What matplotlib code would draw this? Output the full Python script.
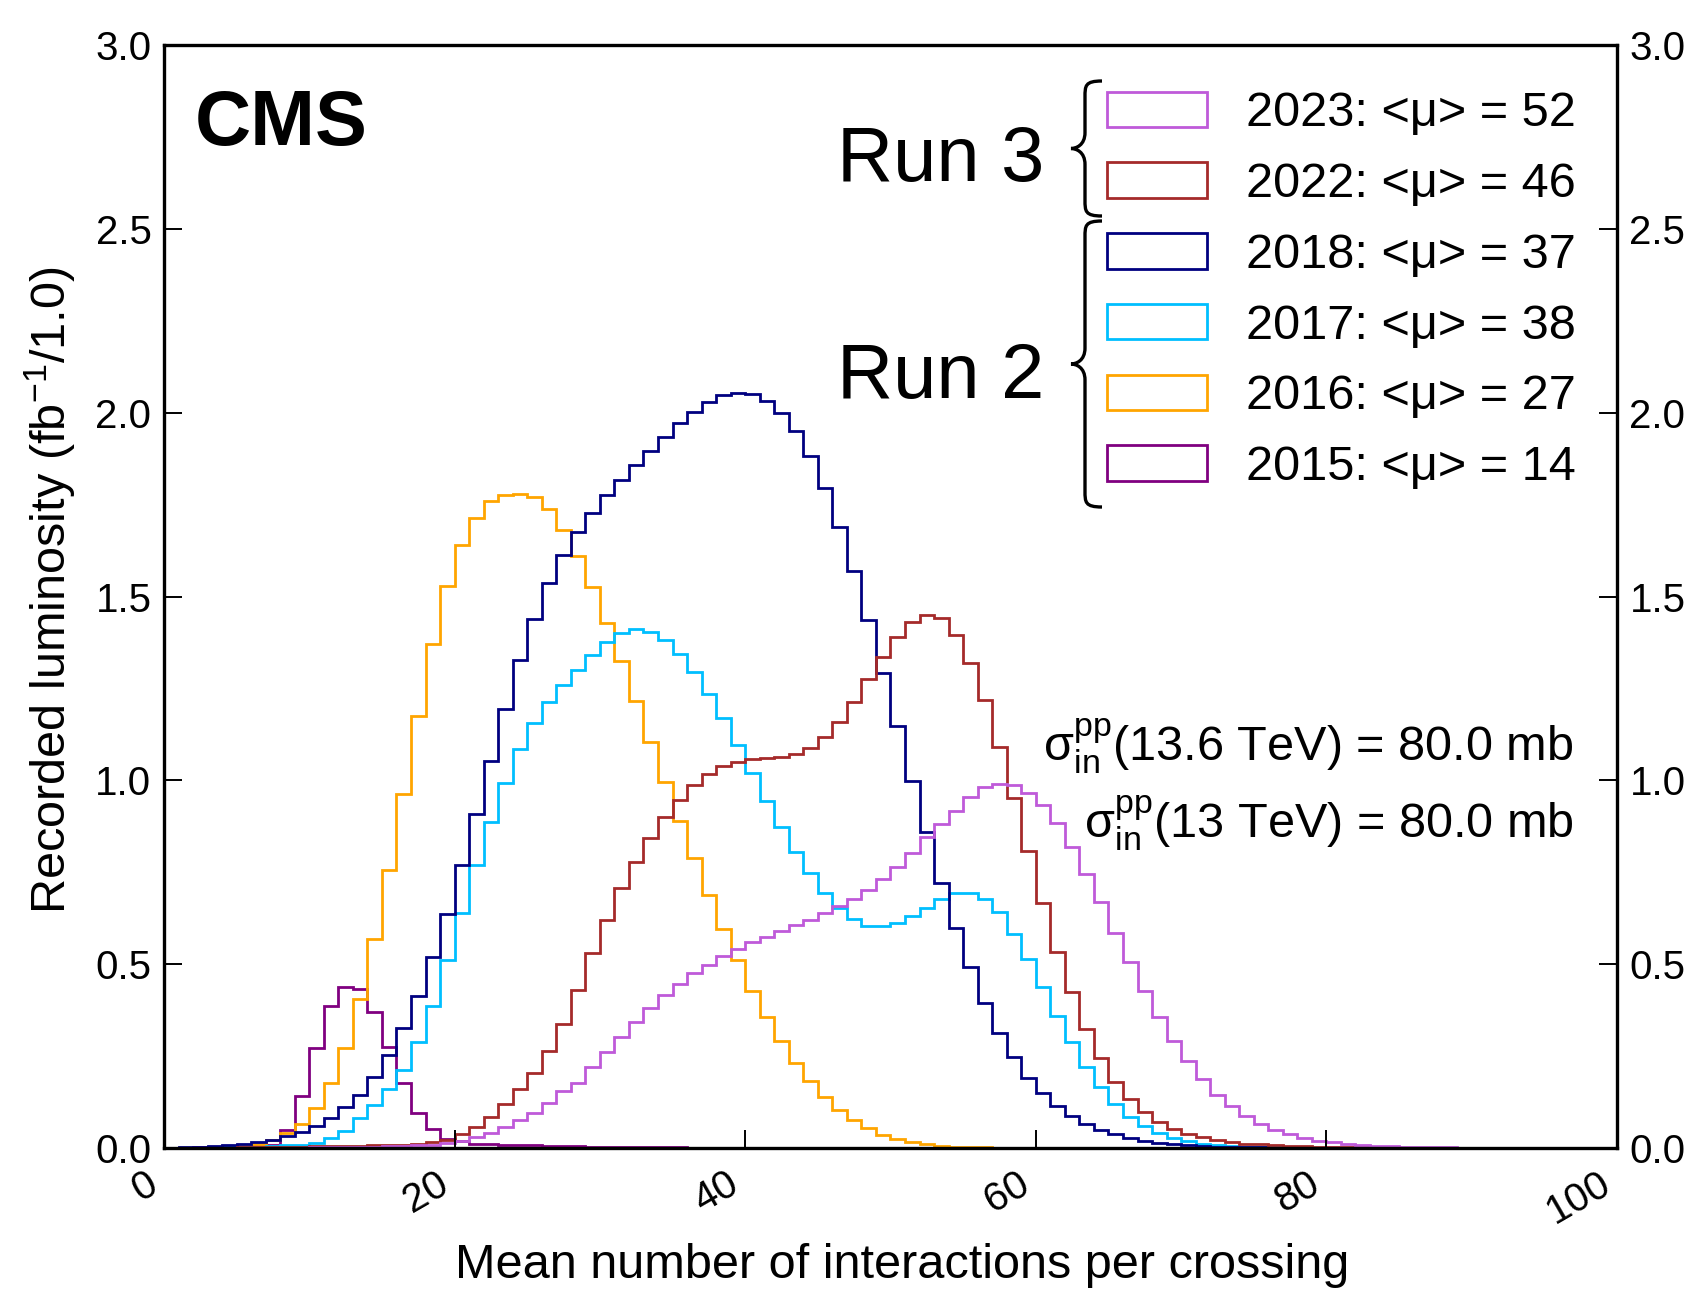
import matplotlib
matplotlib.use("Agg")
import matplotlib.pyplot as plt
import numpy as np
from matplotlib.patches import Patch, PathPatch
from matplotlib.path import Path

plt.rcParams['font.family'] = ['Liberation Sans', 'DejaVu Sans']
plt.rcParams['mathtext.default'] = 'regular'

# recorded luminosity per pile-up bin (bin width 1, 0..100)
edges = np.arange(0, 101)

lumi_2015 = [0, 0.001, 0.002, 0.002, 0.003, 0.004, 0.005, 0.008, 0.05, 0.141,
             0.272, 0.386, 0.437, 0.433, 0.371, 0.276, 0.178, 0.096, 0.052, 0.025,
             0.018, 0.012, 0.01, 0.009, 0.008, 0.007, 0.006, 0.005, 0.005, 0.004,
             0.004, 0.003, 0.003, 0.002, 0.002, 0.002, 0.001, 0.001, 0.001, 0.001,
             0.001] + [0] * 59

lumi_2016 = [0, 0, 0.001, 0.002, 0.004, 0.006, 0.011, 0.021, 0.04, 0.066,
             0.109, 0.176, 0.273, 0.406, 0.568, 0.755, 0.962, 1.174, 1.370, 1.528,
             1.641, 1.714, 1.759, 1.777, 1.778, 1.770, 1.737, 1.682, 1.611, 1.527,
             1.428, 1.324, 1.215, 1.105, 0.996, 0.889, 0.789, 0.689, 0.597, 0.51,
             0.428, 0.356, 0.29, 0.232, 0.182, 0.139, 0.104, 0.075, 0.054, 0.036,
             0.024, 0.015, 0.01, 0.006, 0.004, 0.003, 0.002, 0.001, 0.001] + [0] * 41

lumi_2017 = [0, 0, 0, 0.001, 0.002, 0.003, 0.004, 0.005, 0.007, 0.009,
             0.013, 0.027, 0.047, 0.081, 0.118, 0.16, 0.213, 0.288, 0.386, 0.51,
             0.64, 0.769, 0.886, 0.993, 1.085, 1.156, 1.212, 1.258, 1.3, 1.341,
             1.377, 1.401, 1.411, 1.404, 1.382, 1.343, 1.294, 1.236, 1.17, 1.095,
             1.019, 0.945, 0.872, 0.806, 0.747, 0.694, 0.654, 0.622, 0.605, 0.603,
             0.613, 0.631, 0.653, 0.678, 0.694, 0.694, 0.677, 0.643, 0.583, 0.515,
             0.438, 0.36, 0.287, 0.221, 0.167, 0.121, 0.085, 0.06, 0.041, 0.027,
             0.018, 0.012, 0.008, 0.005, 0.004, 0.003, 0.002, 0.001, 0.001] + [0] * 21

lumi_2018 = [0.001, 0.002, 0.003, 0.005, 0.008, 0.012, 0.017, 0.023, 0.033, 0.043,
             0.06, 0.082, 0.111, 0.145, 0.194, 0.254, 0.327, 0.414, 0.519, 0.637,
             0.769, 0.909, 1.053, 1.195, 1.326, 1.44, 1.536, 1.614, 1.676, 1.726,
             1.775, 1.816, 1.857, 1.896, 1.935, 1.971, 2.003, 2.029, 2.047, 2.054,
             2.05, 2.032, 2.0, 1.95, 1.882, 1.796, 1.69, 1.568, 1.435, 1.292,
             1.147, 0.999, 0.859, 0.721, 0.598, 0.492, 0.395, 0.314, 0.248, 0.191,
             0.149, 0.114, 0.087, 0.064, 0.049, 0.037, 0.026, 0.019, 0.014, 0.01,
             0.008, 0.005, 0.004, 0.003, 0.002, 0.002, 0.001, 0.001] + [0] * 22

lumi_2022 = [0, 0, 0, 0.001, 0.001, 0.002, 0.002, 0.003, 0.003, 0.004,
             0.005, 0.005, 0.006, 0.006, 0.007, 0.008, 0.009, 0.011, 0.015, 0.022,
             0.037, 0.057, 0.084, 0.12, 0.16, 0.203, 0.264, 0.338, 0.43, 0.53,
             0.621, 0.707, 0.779, 0.843, 0.899, 0.947, 0.986, 1.017, 1.04, 1.051,
             1.058, 1.061, 1.064, 1.071, 1.088, 1.119, 1.16, 1.214, 1.275, 1.336,
             1.391, 1.43, 1.45, 1.442, 1.396, 1.32, 1.219, 1.092, 0.953, 0.807,
             0.667, 0.534, 0.423, 0.325, 0.245, 0.18, 0.133, 0.097, 0.071, 0.051,
             0.038, 0.029, 0.021, 0.016, 0.012, 0.01, 0.008, 0.006, 0.005, 0.004,
             0.003, 0.003, 0.002, 0.002, 0.001, 0.001] + [0] * 14

lumi_2023 = [0, 0, 0, 0, 0, 0, 0, 0.001, 0.001, 0.001,
             0.002, 0.002, 0.003, 0.003, 0.004, 0.005, 0.006, 0.007, 0.009, 0.013,
             0.018, 0.029, 0.041, 0.057, 0.075, 0.096, 0.123, 0.154, 0.178, 0.219,
             0.262, 0.303, 0.342, 0.381, 0.415, 0.447, 0.476, 0.499, 0.523, 0.542,
             0.56, 0.575, 0.591, 0.606, 0.621, 0.64, 0.657, 0.677, 0.701, 0.733,
             0.765, 0.802, 0.845, 0.882, 0.917, 0.954, 0.981, 0.99, 0.988, 0.966,
             0.934, 0.884, 0.82, 0.746, 0.668, 0.586, 0.506, 0.428, 0.355, 0.29,
             0.236, 0.187, 0.144, 0.114, 0.087, 0.065, 0.05, 0.037, 0.028, 0.02,
             0.015, 0.011, 0.008, 0.006, 0.005, 0.004, 0.003, 0.002, 0.002, 0.001,
             0.001] + [0] * 9

years = ['2015', '2016', '2017', '2018', '2022', '2023']
mean_mu = [14, 27, 38, 37, 46, 52]
series = [lumi_2015, lumi_2016, lumi_2017, lumi_2018, lumi_2022, lumi_2023]
colors = ['#800080', '#FFA500', '#00BFFF', '#000080', '#A52A2A', '#BF5AD9']

W, H = 1690, 1290
fig = plt.figure(figsize=(W / 100, H / 100), dpi=100)
ax = fig.add_axes([164 / W, 1 - 1148 / H, 1453 / W, 1103 / H])

for vals, c in zip(series, colors):
    ax.stairs(vals, edges, color=c, lw=2.0)

ax.set_xlim(0, 100)
ax.set_ylim(0, 3.0)
ax.set_xticks(np.arange(0, 101, 20))
ax.set_yticks(np.arange(0, 3.01, 0.5))
ax.set_yticklabels([f'{v:.1f}' for v in np.arange(0, 3.01, 0.5)])
ax.tick_params(axis='both', direction='in', length=13, width=1.4, labelsize=29)
ax.tick_params(axis='y', right=True, labelright=True, pad=9)
ax.tick_params(axis='x', top=False, pad=12)
for lab in ax.get_xticklabels():
    lab.set_rotation(30)
    lab.set_ha('right')
for sp in ax.spines.values():
    sp.set_linewidth(2.4)

ax.set_xlabel('Mean number of interactions per crossing', fontsize=35)
ax.xaxis.set_label_coords(0.508, -0.086)
ax.set_ylabel(r'Recorded luminosity (fb$^{-1}$/1.0)', fontsize=35)
ax.yaxis.set_label_coords(-0.059, 0.506)

# legend, newest first
order = [5, 4, 3, 2, 1, 0]
handles = [Patch(facecolor='white', edgecolor=colors[i], lw=2) for i in order]
labels = [f'{years[i]}: <μ> = {mean_mu[i]}' for i in order]
ax.legend(handles, labels, loc='upper left', bbox_to_anchor=(0.649, 0.958),
          frameon=False, fontsize=35, handlelength=2.06, handleheight=0.75,
          handletextpad=0.8, labelspacing=0.53, borderpad=0, borderaxespad=0)

ax.text(0.0213, 0.909, 'CMS', transform=ax.transAxes, fontsize=56,
        fontweight='bold', ha='left', va='baseline')
ax.text(0.606, 0.877, 'Run 3', transform=ax.transAxes, fontsize=56,
        ha='right', va='baseline')
ax.text(0.606, 0.680, 'Run 2', transform=ax.transAxes, fontsize=56,
        ha='right', va='baseline')
ax.text(0.970, 0.351, r'$σ^{pp}_{in}$(13.6 TeV) = 80.0 mb', transform=ax.transAxes,
        fontsize=35, ha='right', va='baseline')
ax.text(0.970, 0.281, r'$σ^{pp}_{in}$(13 TeV) = 80.0 mb', transform=ax.transAxes,
        fontsize=35, ha='right', va='baseline')


def brace(x_mid, x_tip, x_end, y_top, y_bot, r=16):
    # curly brace in reference pixel units (y downwards)
    y_c = (y_top + y_bot) / 2
    pts = [(x_end, y_top),
           (x_mid, y_top), (x_mid, y_top + r * 0.3), (x_mid, y_top + r),
           (x_mid, y_c - r),
           (x_mid, y_c - r * 0.2), (x_tip + 5, y_c), (x_tip, y_c),
           (x_tip + 5, y_c), (x_mid, y_c + r * 0.2), (x_mid, y_c + r),
           (x_mid, y_bot - r),
           (x_mid, y_bot - r * 0.3), (x_mid, y_bot), (x_end, y_bot)]
    codes = [Path.MOVETO] + [Path.CURVE4] * 3 + [Path.LINETO] + [Path.CURVE4] * 6 \
        + [Path.LINETO] + [Path.CURVE4] * 3
    verts = [(x / W, 1 - y / H) for x, y in pts]
    fig.add_artist(PathPatch(Path(verts, codes), transform=fig.transFigure,
                             facecolor='none', edgecolor='black', lw=2.4))


brace(1085, 1071, 1102, 81, 216)
brace(1085, 1071, 1102, 221, 507)

fig.savefig('out.png', dpi=100)
